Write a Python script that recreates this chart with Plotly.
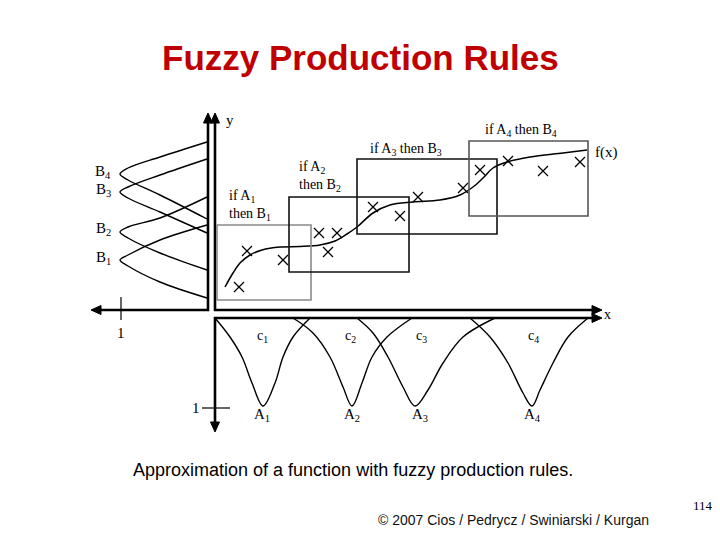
import plotly.graph_objects as go

W, H = 720, 540
PAGE_MARGIN = 8  # browser body margin; the figure is sized so slide pixels map 1:1 to the window

# ---------------- data (slide pixel space) ----------------
title_text = "Fuzzy Production Rules"
caption_text = "Approximation of a function with fuzzy production rules."
footer_text = "© 2007 Cios / Pedrycz / Swiniarski / Kurgan"
page_number = "114"

# axes geometry
b_axis_x = 208
f_axis_x = 215
axis_top = 113
upper_base_y = 310
left_tip_x = 91
right_tip_x = 602
a_base_y = 318
a_axis_bottom = 432

# membership "1" marks
b_one_x = 121
a_one_y = 408

# output fuzzy sets B1..B4 (x, y points along each curve)
b_names = ["B<sub>1</sub>", "B<sub>2</sub>", "B<sub>3</sub>", "B<sub>4</sub>"]
b_label_y = [258, 229, 190, 172]
b_curves_x = [
    [207, 160, 128, 120, 128, 160, 207],
    [207, 160, 128, 120, 128, 160, 207],
    [207, 160, 128, 120, 128, 160, 207],
    [207, 160, 128, 120, 128, 160, 207],
]
b_curves_y = [
    [225, 240, 255, 260, 266, 282, 298],
    [197, 218, 227, 232, 238, 253, 270],
    [159, 175, 187, 192, 198, 212, 233],
    [142, 157, 168, 174, 180, 195, 219],
]

# input fuzzy sets A1..A4
a_names = ["A<sub>1</sub>", "A<sub>2</sub>", "A<sub>3</sub>", "A<sub>4</sub>"]
c_names = ["c<sub>1</sub>", "c<sub>2</sub>", "c<sub>3</sub>", "c<sub>4</sub>"]
a_label_x = [262, 352, 420, 532]
c_label_x = [262, 350, 421, 533]
a_curves_x = [
    [215, 230, 242, 252, 263, 275, 283, 293, 310],
    [293, 313, 330, 343, 352, 362, 372, 387, 412],
    [357, 373, 388, 403, 415, 428, 443, 463, 495],
    [470, 490, 508, 523, 532, 540, 553, 568, 588],
]
a_curves_y = [
    [318, 337, 357, 383, 406, 383, 357, 337, 318],
    [318, 333, 357, 387, 406, 383, 357, 337, 318],
    [318, 333, 357, 387, 406, 390, 363, 337, 318],
    [318, 337, 363, 393, 406, 390, 363, 337, 318],
]

# rule boxes: x0, y0, x1, y1, colour
box_x0 = [217, 289, 357, 469]
box_y0 = [225, 197, 159, 141]
box_x1 = [311, 409, 497, 588]
box_y1 = [300, 272, 234, 216]
box_colors = ["#8a8a8a", "#111111", "#111111", "#555555"]

# rule labels
rule_labels = ["if A<sub>1</sub><br>then B<sub>1</sub>", "if A<sub>2</sub><br>then B<sub>2</sub>",
               "if A<sub>3</sub> then B<sub>3</sub>", "if A<sub>4</sub> then B<sub>4</sub>"]
rule_label_x = [227, 297, 368, 483]
rule_label_y = [205, 176, 149, 130]

# data samples (crosses)
pts_x = [247, 283, 239, 319, 337, 328, 373, 400, 418, 463, 480, 508, 543, 580]
pts_y = [251, 260, 287, 233, 233, 252, 207, 216, 197, 188, 170, 161, 171, 162]

# the function f(x)
fx_x = [225, 233, 240, 250, 262, 280, 300, 320, 335, 347, 357, 373, 390, 413, 440,
        460, 473, 483, 493, 507, 530, 563, 587]
fx_y = [287, 273, 263, 255, 250, 247, 246.5, 245, 241, 234, 227, 213, 205, 202, 200,
        195, 187, 178, 168, 162, 157, 153, 150]

# ---------------- figure ----------------
fig = go.Figure()
serif = "Liberation Serif, Times New Roman, serif"
sans = "Liberation Sans, Arial, sans-serif"
AW = 2.6

def line(xs, ys, width=AW, color="black", shape="linear"):
    fig.add_trace(go.Scatter(x=xs, y=ys, mode="lines", hoverinfo="skip",
                             line=dict(color=color, width=width, shape=shape, smoothing=1.0),
                             showlegend=False))

def arrow_head(tx, ty, dx, dy, length=10, half=4.5):
    # triangle with tip at (tx,ty) pointing along (dx,dy)
    bx, by = tx - dx * length, ty - dy * length
    px, py = -dy, dx
    path = (f"M {tx},{ty} L {bx + px * half},{by + py * half} "
            f"L {bx - px * half},{by - py * half} Z")
    fig.add_shape(type="path", path=path, fillcolor="black", line=dict(color="black", width=1),
                  xref="x", yref="y")

# left L (B axis)
line([b_axis_x, b_axis_x, left_tip_x + 6], [axis_top + 6, upper_base_y, upper_base_y])
arrow_head(b_axis_x, axis_top, 0, -1)
arrow_head(left_tip_x, upper_base_y, -1, 0)
# right L (f axis)
line([f_axis_x, f_axis_x, right_tip_x - 6], [axis_top + 6, upper_base_y, upper_base_y])
arrow_head(f_axis_x, axis_top, 0, -1)
arrow_head(right_tip_x, upper_base_y, 1, 0)
# bottom L (A axis)
line([right_tip_x - 6, f_axis_x, f_axis_x], [a_base_y, a_base_y, a_axis_bottom - 6])
arrow_head(right_tip_x, a_base_y, 1, 0)
arrow_head(f_axis_x, a_axis_bottom, 0, 1)

# "1" marks
line([b_one_x, b_one_x], [297, 320], width=1.2)
line([202, 230], [a_one_y, a_one_y], width=1.2)

# B curves
for xs, ys in zip(b_curves_x, b_curves_y):
    line(xs, ys, width=1.4, shape="spline")
# A curves
for xs, ys in zip(a_curves_x, a_curves_y):
    line(xs, ys, width=1.4, shape="spline")

# boxes
for x0, y0, x1, y1, c in zip(box_x0, box_y0, box_x1, box_y1, box_colors):
    fig.add_shape(type="rect", x0=x0, y0=y0, x1=x1, y1=y1, xref="x", yref="y",
                  line=dict(color=c, width=1.6), fillcolor="rgba(0,0,0,0)")

# f(x)
line(fx_x, fx_y, width=1.5, shape="spline")

# crosses
fig.add_trace(go.Scatter(x=pts_x, y=pts_y, mode="markers", hoverinfo="skip", showlegend=False,
                         marker=dict(symbol="x-thin", size=10, line=dict(color="black", width=1.3))))

def text(x, y, s, size=14, font=serif, color="black", xanchor="center", yanchor="middle", align="center"):
    fig.add_annotation(x=x, y=y, text=s, showarrow=False, xref="x", yref="y",
                       font=dict(family=font, size=size, color=color),
                       xanchor=xanchor, yanchor=yanchor, align=align)

# labels
for n, yy in zip(b_names, b_label_y):
    text(103, yy, n, size=15)
for n, xx in zip(a_names, a_label_x):
    text(xx, 415, n, size=15)
for n, xx in zip(c_names, c_label_x):
    text(xx, 336, n, size=14)
for s, xx, yy in zip(rule_labels, rule_label_x, rule_label_y):
    text(xx, yy, s, size=14, xanchor="left", align="left")
text(593, 152, "f(x)", size=15, xanchor="left")
text(230, 120, "y", size=15)
text(607, 314, "x", size=14)
text(121, 333, "1", size=15)
text(196, 408, "1", size=15)

# slide texts
text(360, 57, "<b>" + title_text + "</b>", size=35, font=sans, color="#C00000")
text(353, 470, caption_text, size=18, font=sans)
text(513, 520, footer_text, size=14, font=sans, color="#111111")
text(703, 505, page_number, size=13, font=serif)

fig.update_layout(width=W - PAGE_MARGIN, height=H - PAGE_MARGIN, margin=dict(l=0, r=0, t=0, b=0),
                  paper_bgcolor="white", plot_bgcolor="white",
                  xaxis=dict(range=[PAGE_MARGIN, W], visible=False, fixedrange=True),
                  yaxis=dict(range=[H, PAGE_MARGIN], visible=False, fixedrange=True))
fig.write_html("out.html")
